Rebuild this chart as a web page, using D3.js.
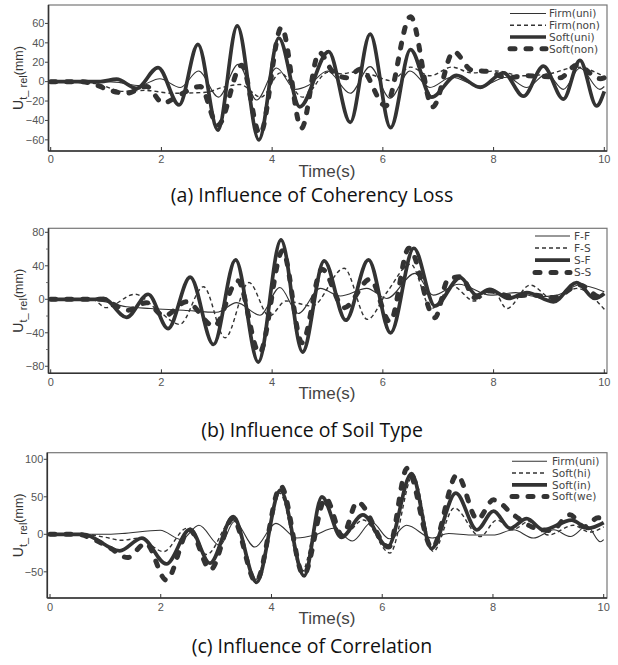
<!DOCTYPE html>
<html><head><meta charset="utf-8">
<script src="https://cdn.jsdelivr.net/npm/d3@7"></script>
<style>body{margin:0;background:#fff}svg{display:block}</style>
</head><body><svg id="c" width="618" height="665"></svg>
<script>
// ---------------- DATA (time s, displacement mm) ----------------
const timeTicks = [0, 2, 4, 6, 8, 10];

// (a) Influence of Coherency Loss
const labelsA = ["Firm(uni)", "Firm(non)", "Soft(uni)", "Soft(non)"];
const firmUniA = [[0,0],[1.0,0],[1.25,-1],[1.6,-4],[1.97,3],[2.34,-6],[2.67,11],[3.03,-16],[3.39,18],[3.72,-19],[4.08,14],[4.42,-8],[4.65,-4],[5.0,11],[5.41,-12],[5.77,15.5],[6.13,-17],[6.49,11],[6.85,-6],[7.24,4.5],[7.76,-4.5],[8.24,4.5],[8.6,-6],[8.96,8],[9.26,-8],[9.56,14],[9.92,-8],[10.0,-5]];
const firmNonA = [[0,0],[0.8,-2],[1.3,-10],[1.7,-9],[2.2,-12],[2.8,-11],[3.1,-6],[3.42,-3],[3.8,-16],[4.15,9],[4.55,-16],[5.02,10],[5.25,8],[5.5,10],[5.8,7],[6.15,1],[6.5,15],[6.85,6],[7.25,15],[7.6,9],[8.05,11],[8.5,6],[9.0,8],[9.5,15],[10.0,5]];
const softUniA = [[0,0],[0.9,0],[1.19,2.5],[1.55,-7],[1.94,14.5],[2.32,-24],[2.66,38.5],[3.02,-50],[3.37,57.5],[3.76,-60],[4.12,45],[4.5,-26],[5.02,31],[5.41,-42],[5.77,49],[6.14,-47.5],[6.5,33],[6.88,-16],[7.33,6.5],[7.76,-6],[8.18,9],[8.54,-15],[8.9,16],[9.26,-18],[9.56,22],[9.86,-25],[10.0,-10]];
const softNonA = [[0,0],[0.5,0],[0.75,-2],[1.07,-9],[1.37,-12],[1.73,-5],[2.03,-22],[2.35,-13],[2.7,-5],[3.02,-45],[3.45,17],[3.78,-54],[4.17,56],[4.53,-48],[4.85,30],[5.1,10],[5.35,4],[5.6,13],[6.05,-25],[6.5,67],[6.9,-26],[7.28,31],[7.6,12],[7.94,10],[8.24,4],[8.6,6],[9.0,5],[9.2,4],[9.5,17],[9.93,3],[10.0,4]];

// (b) Influence of Soil Type
const labelsB = ["F-F", "F-S", "S-F", "S-S"];
const ffB = [[0,0],[0.8,-1],[1.37,-9],[1.8,-11],[2.4,-13],[3.0,-15.5],[3.36,-4],[3.78,-19],[4.14,14],[4.47,-17],[4.87,13],[5.23,4],[5.71,13],[6.07,1],[6.58,31],[6.91,5],[7.37,18],[7.95,5],[8.4,8],[8.8,3],[9.15,5],[9.55,17],[10.0,9]];
const fsB = [[0,0],[0.75,0],[1.0,-10],[1.52,6],[1.95,-14],[2.33,-30],[2.76,15],[3.15,-46],[3.58,20],[3.95,-20],[4.25,-2],[4.72,-8],[5.3,37],[5.72,-24],[6.08,9],[6.5,42],[6.88,-11],[7.25,16],[7.65,-2],[7.98,12],[8.24,-11],[8.66,17],[9.08,0],[9.5,13],[10.0,-12]];
const sfB = [[0,0],[0.8,0],[0.95,1],[1.37,-21.5],[1.76,6],[2.12,-35],[2.52,26.5],[2.94,-54],[3.34,47],[3.75,-75],[4.16,71],[4.55,-63],[4.94,46],[5.33,-25],[5.74,47],[6.14,-40],[6.56,61],[6.94,-8],[7.4,26],[7.69,5],[7.93,12],[8.27,1],[8.6,8],[9.08,-3],[9.5,20],[9.83,1],[10.0,7]];
const ssB = [[0,0],[0.9,0],[1.4,-13],[1.73,-4],[2.05,-20],[2.45,-3],[2.95,-32],[3.38,22],[3.77,-64],[4.19,58],[4.54,-52],[4.9,36],[5.3,-10],[5.77,24],[6.13,-27],[6.47,61],[6.94,-22],[7.18,24],[7.42,27],[7.65,2],[7.93,10],[8.3,4],[8.7,5],[9.1,2],[9.55,17],[9.95,2],[10.0,3]];

// (c) Influence of Correlation
const labelsC = ["Firm(uni)", "Soft(hi)", "Soft(in)", "Soft(we)"];
const firmUniC = [[0,0],[1.0,0],[1.3,1],[1.99,5.5],[2.37,-7],[2.69,12],[3.07,-15],[3.33,17],[3.7,-17],[4.08,14.6],[4.46,-5],[4.78,-1],[5.12,8],[5.46,-9],[5.81,16],[6.13,-6],[6.44,12],[6.9,-5],[7.2,1],[7.6,-1],[8.0,-1],[8.37,6],[8.73,-5],[9.1,6],[9.4,-3],[9.7,11],[9.94,-10],[10.0,-7]];
const softHiC = [[0,0],[0.6,0],[1.0,-4],[1.3,-8],[1.6,-5],[2.05,-23],[2.47,8],[2.83,-27],[3.3,20],[3.72,-60],[4.15,55],[4.55,-50],[4.91,43],[5.3,-1],[5.66,19],[6.14,-25],[6.56,79],[6.92,-23],[7.3,35],[7.77,-3],[8.07,19],[8.35,6],[8.65,17],[9.0,-1],[9.45,12],[9.75,3],[10.0,10]];
const softInC = [[0,0],[0.6,0],[1.26,-22],[1.66,-5],[2.1,-39.5],[2.53,6.5],[2.89,-38.5],[3.31,23.5],[3.73,-64],[4.16,59],[4.59,-55.5],[4.91,50],[5.26,-4],[5.65,26],[6.1,-16.5],[6.53,81],[6.89,-19],[7.33,55],[7.71,6],[8.01,31],[8.31,8],[8.61,21],[8.91,6],[9.42,19],[9.72,8],[10.0,15.5]];
const softWeC = [[0,0],[0.5,0],[0.8,-7],[1.08,-18],[1.4,-31],[1.73,-12],[2.1,-61],[2.52,6],[2.9,-47],[3.3,21],[3.72,-63],[4.17,64],[4.58,-54],[4.98,48],[5.28,-2],[5.55,43],[6.12,-17],[6.45,88],[6.9,-18],[7.35,79],[7.72,20],[8.01,46],[8.37,26],[8.7,10],[9.05,5],[9.39,26],[9.65,10],[9.9,22],[10.0,19]];

const yTicksA = [-60, -40, -20, 0, 20, 40, 60];
const yTicksB = [-80, -40, 0, 40, 80];
const yMinorB = [-60, -20, 20, 60];
const yTicksC = [-50, 0, 50, 100];

const captions = ["(a) Influence of Coherency Loss", "(b) Influence of Soil Type", "(c) Influence of Correlation"];

// ---------------- LAYOUT ----------------
const panels = [
  {left:48.5, right:607, top:5, bottom:151, x0:50.7, x10:604.3, yDom:[-71.5,79],
   yTicks:yTicksA, yMinor:[], series:[firmUniA, firmNonA, softUniA, softNonA], labels:labelsA,
   leg:{x1:510, x2:546, tx:549, ys:[13.5,25.3,37,48.7]}, tickBase:163, timeBase:177, capBase:202},
  {left:48.5, right:607, top:228.3, bottom:373.3, x0:50.7, x10:604.3, yDom:[-88.4,84.8],
   yTicks:yTicksB, yMinor:yMinorB, series:[ffB, fsB, sfB, ssB], labels:labelsB,
   leg:{x1:535, x2:570, tx:574, ys:[236,248,260.2,272.4]}, tickBase:386, timeBase:399, capBase:437},
  {left:47.3, right:607, top:452.7, bottom:598, x0:50, x10:603.7, yDom:[-84.9,108.8],
   yTicks:yTicksC, yMinor:[], series:[firmUniC, softHiC, softInC, softWeC], labels:labelsC,
   leg:{x1:512, x2:547, tx:552, ys:[461.2,473,484.8,496.6]}, tickBase:611, timeBase:624, capBase:653}
];

const styles = [
  {w:1.1, dash:null, cap:"butt"},
  {w:1.4, dash:"4,3", cap:"butt"},
  {w:3.7, dash:null, cap:"butt"},
  {w:5, dash:"5,11", cap:"round"}
];
const lineColor = "#333";

const svg = d3.select("#c");

panels.forEach((p, i) => {
  const g = svg.append("g");
  const x = d3.scaleLinear().domain([0, 10]).range([p.x0, p.x10]);
  const y = d3.scaleLinear().domain(p.yDom).range([p.bottom, p.top]);

  const cid = "clip" + i;
  svg.append("clipPath").attr("id", cid).append("rect")
    .attr("x", p.left).attr("y", p.top).attr("width", p.right - p.left).attr("height", p.bottom - p.top);

  // frame
  g.append("rect").attr("x", p.left).attr("y", p.top)
    .attr("width", p.right - p.left).attr("height", p.bottom - p.top)
    .attr("fill", "none").attr("stroke", "#777").attr("stroke-width", 1.2);
  g.append("line").attr("x1", p.left).attr("x2", p.right).attr("y1", p.bottom).attr("y2", p.bottom)
    .attr("stroke", "#333").attr("stroke-width", 1.6);
  g.append("line").attr("x1", p.left).attr("x2", p.left).attr("y1", p.top).attr("y2", p.bottom)
    .attr("stroke", "#333").attr("stroke-width", 1.6);

  // x ticks (inward) + labels
  timeTicks.forEach(t => {
    g.append("line").attr("x1", x(t)).attr("x2", x(t)).attr("y1", p.bottom).attr("y2", p.bottom - 4)
      .attr("stroke", "#333").attr("stroke-width", 1);
    g.append("text").attr("x", x(t)).attr("y", p.tickBase).attr("text-anchor", "middle")
      .attr("font-family", "Liberation Sans, Arial, sans-serif").attr("font-size", 11)
      .attr("fill", "#555").text(t);
  });
  // y ticks (outward) + labels
  p.yTicks.forEach(v => {
    g.append("line").attr("x1", p.left - 3.5).attr("x2", p.left).attr("y1", y(v)).attr("y2", y(v))
      .attr("stroke", "#444").attr("stroke-width", 1);
    g.append("text").attr("x", p.left - 4).attr("y", y(v)).attr("dy", "0.35em").attr("text-anchor", "end")
      .attr("font-family", "Liberation Sans, Arial, sans-serif").attr("font-size", 11)
      .attr("fill", "#555").text(v < 0 ? "\u2212" + Math.abs(v) : v);
  });
  p.yMinor.forEach(v => {
    g.append("line").attr("x1", p.left - 2.5).attr("x2", p.left).attr("y1", y(v)).attr("y2", y(v))
      .attr("stroke", "#555").attr("stroke-width", 0.8);
  });

  // series
  const line = d3.line().x(d => x(d[0])).y(d => y(d[1])).curve(d3.curveMonotoneX);
  [0, 1, 2, 3].forEach(k => {
    const s = styles[k];
    g.append("path").attr("d", line(p.series[k])).attr("clip-path", `url(#${cid})`)
      .attr("fill", "none").attr("stroke", lineColor).attr("stroke-width", s.w)
      .attr("stroke-dasharray", s.dash).attr("stroke-linecap", s.cap).attr("stroke-linejoin", "round");
  });

  // legend
  p.labels.forEach((lab, k) => {
    const s = styles[k];
    const ly = p.leg.ys[k];
    g.append("line").attr("x1", p.leg.x1).attr("x2", p.leg.x2).attr("y1", ly).attr("y2", ly)
      .attr("stroke", lineColor).attr("stroke-width", s.w).attr("stroke-dasharray", s.dash)
      .attr("stroke-linecap", s.cap);
    g.append("text").attr("x", p.leg.tx).attr("y", ly).attr("dy", "0.36em")
      .attr("font-family", "DejaVu Sans, sans-serif").attr("font-size", 10.6)
      .attr("fill", "#444").text(lab);
  });

  // y-axis label
  const cy = (p.top + p.bottom) / 2;
  const yl = g.append("text").attr("transform", `translate(23,${cy}) rotate(-90)`)
    .attr("text-anchor", "middle").attr("font-family", "Liberation Sans, Arial, sans-serif")
    .attr("font-size", 14).attr("fill", "#333");
  yl.append("tspan").text("U");
  yl.append("tspan").attr("font-size", 11).attr("dy", 4).text("t_ rel");
  yl.append("tspan").attr("font-size", 12.5).attr("dy", -4).text("(mm)");

  // x-axis title
  g.append("text").attr("x", 327).attr("y", p.timeBase).attr("text-anchor", "middle")
    .attr("font-family", "Liberation Sans, Arial, sans-serif").attr("font-size", 17)
    .attr("fill", "#444").text("Time(s)");

  // caption
  g.append("text").attr("x", 312).attr("y", p.capBase).attr("text-anchor", "middle")
    .attr("font-family", "Open Sans, Noto Sans, sans-serif").attr("font-size", 19.5)
    .attr("fill", "#111").text(captions[i]);
});
</script></body></html>
